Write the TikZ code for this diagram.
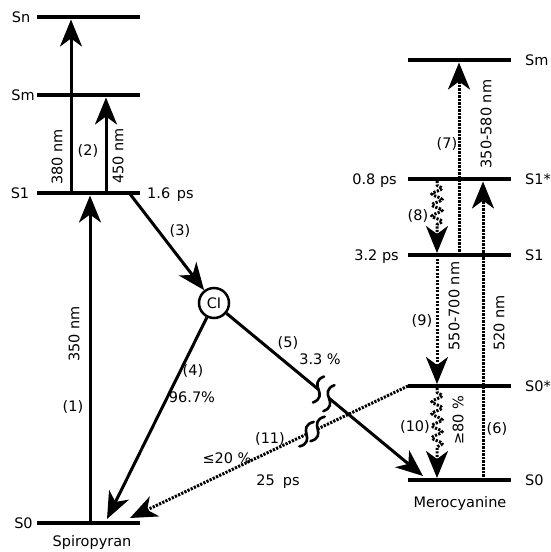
\documentclass[tikz,border=0pt]{standalone}
\usepackage{fontspec}
\setmainfont{DejaVu Sans}
\usetikzlibrary{arrows.meta,decorations.pathmorphing,calc}

\begin{document}
\begin{tikzpicture}[x=1pt,y=-1pt,
  every node/.style={font=\fontsize{14.5}{16}\selectfont, inner sep=0pt,
    text height=10.6pt, text depth=0pt},
  lvl/.style={line width=4.5pt},
  bigtip/.style={-{Stealth[length=27pt,width=22pt,inset=8pt]}},
  solidarr/.style={line width=3pt, bigtip},
  dotline/.style={line width=3pt, dash pattern=on 2.2pt off 1.3pt},
  dotarr/.style={dotline, bigtip},
  wavy/.style={dotarr, decorate, decoration={snake, amplitude=5pt,
    segment length=11pt, pre length=4pt, post length=28pt}},
  rot/.style={rotate=90},
  brk/.pic={\draw[line width=2.6pt, line cap=round]
    (2,-14) .. controls (-5,-9) and (-3,-4) .. (0,0)
    .. controls (3,4) and (5,9) .. (-2,14);},
]
\useasboundingbox (0,0) rectangle (550,552);

% ---- spiropyran levels ----
\coordinate (spSnL) at (37,17);  \coordinate (spSnR) at (140,17);
\coordinate (spSmL) at (37,95);  \coordinate (spSmR) at (140,95);
\coordinate (spS1L) at (37,193); \coordinate (spS1R) at (140,193);
\coordinate (spS0L) at (37,523); \coordinate (spS0R) at (140,523);
\draw[lvl] (spSnL) -- (spSnR);
\draw[lvl] (spSmL) -- (spSmR);
\draw[lvl] (spS1L) -- (spS1R);
\draw[lvl] (spS0L) -- (spS0R);
\node (lSn) at (21,17) {Sn};
\node (lSm) at (23,95) {Sm};
\node (lS1) at (20,193) {S1};
\node (lS0) at (23.5,523) {S0};
\node (spname) at (92,541) {Spiropyran};

% ---- merocyanine levels ----
\coordinate (mcSmL) at (408,60);   \coordinate (mcSmR) at (511,60);
\coordinate (mcS1sL) at (408,179); \coordinate (mcS1sR) at (511,179);
\coordinate (mcS1L) at (408,255);  \coordinate (mcS1R) at (511,255);
\coordinate (mcS0sL) at (408,386); \coordinate (mcS0sR) at (511,386);
\coordinate (mcS0L) at (408,480);  \coordinate (mcS0R) at (511,480);
\draw[lvl] (mcSmL) -- (mcSmR);
\draw[lvl] (mcS1sL) -- (mcS1sR);
\draw[lvl] (mcS1L) -- (mcS1R);
\draw[lvl] (mcS0sL) -- (mcS0sR);
\draw[lvl] (mcS0L) -- (mcS0R);
\node[anchor=west] (rSm) at (525,60) {Sm};
\node[anchor=west] (rS1s) at (525,179) {S1*};
\node[anchor=west] (rS1) at (525,255) {S1};
\node[anchor=west] (rS0s) at (525,386) {S0*};
\node[anchor=west] (rS0) at (525,480) {S0};
\node[anchor=east] (t08) at (397,179) {0.8 ps};
\node[anchor=east] (t32) at (399,255) {3.2 ps};
\node (mcname) at (460,502) {Merocyanine};

% ---- conical intersection ----
\node[circle, draw, line width=2.5pt, minimum size=30pt] (ci) at (214,303) {CI};

% ---- spiropyran transitions ----
\coordinate (a1s) at (90,523);  \coordinate (a1e) at (90,195.5);
\coordinate (a2s) at (71,193);  \coordinate (a2e) at (71,19.5);
\coordinate (a2bs) at (106,193); \coordinate (a2be) at (106,97.5);
\coordinate (a3s) at (130,194);
\coordinate (a4e) at (107,519);
\draw[solidarr] (a1s) -- (a1e);
\draw[solidarr] (a2s) -- (a2e);
\draw[solidarr] (a2bs) -- (a2be);
\draw[solidarr] (a3s) -- (ci);
\draw[solidarr] (ci) -- (a4e);

\node[rot] (w380) at (57,157) {380 nm};
\node (n2) at (88,150) {(2)};
\node[rot] (w450) at (118,156) {450 nm};
\node[anchor=west] (t16) at (147,193) {1.6\hspace{2pt} ps};
\node (n3) at (180,230) {(3)};
\node[rot] (w350) at (74,334) {350 nm};
\node (n1) at (73,406) {(1)};
\node (n4) at (193,370) {(4)};
\node (p967) at (192,397) {96.7\%};

% ---- CI -> merocyanine, interrupted ----
\coordinate (a5e) at (423,476);
\coordinate (b5a) at ($(ci.center)!0.50!(a5e)$);
\coordinate (b5b) at ($(ci.center)!0.55!(a5e)$);
\draw[line width=3pt] (ci) -- (b5a);
\draw[solidarr] (b5b) -- (a5e);
\pic[rotate=-15] at (b5a) {brk};
\pic[rotate=-15] at (b5b) {brk};
\node (n5) at (288,342) {(5)};
\node (p33) at (320,359) {3.3 \%};

% ---- thermal back reaction, interrupted ----
\coordinate (a11e) at (130,518);
\coordinate (b11a) at ($(mcS0sL)!0.325!(a11e)$);
\coordinate (b11b) at ($(mcS0sL)!0.365!(a11e)$);
\draw[dotline] (mcS0sL) -- (b11a);
\draw[dotarr] (b11b) -- (a11e);
\pic[rotate=-22] at (b11a) {brk};
\pic[rotate=-22] at (b11b) {brk};
\node (n11) at (270,438) {(11)};
\node (p20) at (227,458) {≤20 \%};
\node (t25) at (278,480) {25\hspace{0.55em}ps};

% ---- merocyanine transitions ----
\coordinate (a6s) at (483,480);  \coordinate (a6e) at (483,181.5);
\coordinate (a7s) at (459,255);  \coordinate (a7e) at (459,62.5);
\coordinate (a8s) at (437,181);  \coordinate (a8e) at (437,253);
\coordinate (a9s) at (437,255);  \coordinate (a9e) at (437,384);
\coordinate (a10s) at (437,388); \coordinate (a10e) at (437,478);
\draw[dotarr] (a6s) -- (a6e);
\draw[dotarr] (a7s) -- (a7e);
\draw[wavy] (a8s) -- (a8e);
\draw[dotarr] (a9s) -- (a9e);
\draw[wavy, decoration={segment length=12pt}] (a10s) -- (a10e);

\node (n7) at (447,143) {(7)};
\node[rot] (w350580) at (486,124) {350-580 nm};
\node (n8) at (418,215) {(8)};
\node (n9) at (422,320) {(9)};
\node[rot] (w550700) at (454,306) {550-700 nm};
\node[rot] (w520) at (499,323) {520 nm};
\node (n6) at (497,428) {(6)};
\node (n10) at (415,426) {(10)};
\node[rot] (p80) at (458,420) {≥80 \%};
\end{tikzpicture}
\end{document}
